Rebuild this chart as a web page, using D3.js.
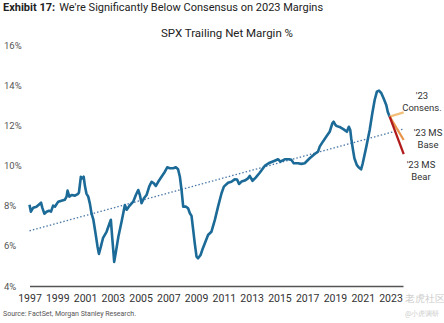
<!DOCTYPE html>
<html>
<head>
<meta charset="utf-8">
<script src="https://cdn.jsdelivr.net/npm/d3@7"></script>
<style>
  body { margin: 0; background: #fff; }
  svg { font-family: Roboto, "Open Sans", sans-serif; display: block; }
</style>
</head>
<body>
<div id="chart"></div>
<script>
const years = [
  1997.0, 1997.1, 1997.27, 1997.5, 1997.75, 1997.83, 1997.92, 1998.07, 1998.23, 1998.4,
  1998.55, 1998.7, 1998.83, 1999.07, 1999.3, 1999.55, 1999.67, 1999.74, 1999.87, 2000.03,
  2000.27, 2000.47, 2000.56, 2000.7, 2000.8, 2000.9, 2001.0, 2001.1, 2001.23, 2001.35,
  2001.47, 2001.6, 2001.76, 2001.9, 2002.0, 2002.14, 2002.3, 2002.55, 2002.86, 2002.96,
  2003.1, 2003.2, 2003.4, 2003.63, 2003.87, 2004.0, 2004.15, 2004.47, 2004.66, 2004.83,
  2004.95, 2005.07, 2005.24, 2005.43, 2005.62, 2005.79, 2005.96, 2006.1, 2006.27, 2006.51,
  2006.75, 2006.92, 2007.1, 2007.35, 2007.54, 2007.7, 2007.83, 2007.95, 2008.07, 2008.26,
  2008.42, 2008.55, 2008.67, 2008.79, 2008.9, 2009.03, 2009.14, 2009.32, 2009.46, 2009.63,
  2009.86, 2010.1, 2010.35, 2010.58, 2010.83, 2011.0, 2011.3, 2011.54, 2011.78, 2011.95,
  2012.09, 2012.27, 2012.5, 2012.74, 2012.86, 2013.06, 2013.29, 2013.58, 2013.94, 2014.3,
  2014.66, 2014.9, 2015.07, 2015.38, 2015.69, 2015.86, 2016.03, 2016.34, 2016.58, 2016.82,
  2017.18, 2017.54, 2017.78, 2017.9, 2018.14, 2018.38, 2018.62, 2018.81, 2018.9, 2019.03,
  2019.14, 2019.39, 2019.63, 2019.86, 2020.0, 2020.1, 2020.17, 2020.3, 2020.4, 2020.57,
  2020.7, 2020.88, 2021.0, 2021.26, 2021.5, 2021.69, 2021.86, 2022.02, 2022.17, 2022.34,
  2022.5, 2022.7, 2022.8, 2022.94
];
const margins = [
  8.05, 7.7, 7.9, 7.95, 8.1, 8.15, 7.9, 7.6, 7.7, 7.75,
  7.7, 8.0, 7.95, 8.2, 8.25, 8.3, 8.45, 8.75, 8.45, 8.53,
  8.5, 8.58, 8.65, 9.44, 9.36, 9.44, 8.95, 8.6, 8.45, 8.1,
  7.6, 7.3, 6.6, 5.96, 5.6, 5.96, 6.4, 6.7, 7.3, 6.4,
  5.2, 5.6, 6.45, 7.2, 8.03, 7.8, 7.95, 8.2, 8.53, 8.78,
  8.53, 8.12, 8.37, 8.53, 8.95, 9.19, 9.11, 8.98, 9.19, 9.44,
  9.69, 9.91, 9.86, 9.86, 9.91, 9.81, 9.44, 8.78, 7.95, 7.95,
  7.87, 7.62, 7.49, 6.79, 6.13, 5.46, 5.38, 5.54, 5.83, 6.13,
  6.54, 6.7, 7.29, 7.95, 8.62, 8.95, 9.14, 9.19, 9.31, 9.3,
  9.08, 9.2, 9.25, 9.36, 9.48, 9.24, 9.4, 9.64, 9.98, 10.14,
  10.24, 10.31, 10.19, 10.31, 10.31, 10.28, 10.11, 10.11, 10.08, 10.11,
  10.36, 10.57, 10.69, 10.94, 11.2, 11.44, 11.68, 12.1, 12.18, 12.02,
  11.96, 11.9, 11.8, 11.68, 11.93, 11.77, 11.36, 10.77, 10.36, 10.03,
  9.91, 9.81, 10.11, 10.94, 11.77, 12.6, 13.26, 13.68, 13.73, 13.6,
  13.35, 13.0, 12.68, 12.43
];

// 2023 scenarios: start at last actual, end at end of 2023
const projYears = [2022.94, 2023.95];
const consensus = [12.43, 12.65];
const msBase = [12.43, 11.27];
const msBear = [12.43, 10.57];

// linear trend endpoints
const trendYears = [1997.0, 2023.95];
const trendValues = [6.75, 11.82];

const yTicks = [4, 6, 8, 10, 12, 14, 16];
const xTicks = [1997, 1999, 2001, 2003, 2005, 2007, 2009, 2011, 2013, 2015, 2017, 2019, 2021, 2023];

const w = 444, h = 323;

const svg = d3.select("#chart").append("svg")
  .attr("width", w)
  .attr("height", h);

const x = d3.scaleLinear().domain([1997, 2023.9]).range([29.5, 403]);
const y = d3.scaleLinear().domain([4, 16]).range([286, 45]);

// titles
const title = svg.append("text")
  .attr("x", 3)
  .attr("y", 11)
  .attr("font-size", 11)
  .attr("fill", "#222");
title.append("tspan").attr("font-weight", "bold").text("Exhibit 17:");
title.append("tspan").attr("dx", 4).text("We're Significantly Below Consensus on 2023 Margins");

svg.append("text")
  .attr("x", 227)
  .attr("y", 37)
  .attr("text-anchor", "middle")
  .attr("font-size", 11.5)
  .attr("fill", "#222")
  .text("SPX Trailing Net Margin %");

// y labels
svg.append("g").selectAll("text")
  .data(yTicks)
  .enter()
  .append("text")
  .attr("x", 4)
  .attr("y", d => y(d) + 3.5)
  .attr("font-size", 9.5)
  .attr("fill", "#555")
  .text(d => d + "%");

// x axis
const xAxis = d3.axisBottom(x)
  .tickValues(xTicks)
  .tickFormat(d3.format("d"))
  .tickSize(0)
  .tickPadding(9);

const gx = svg.append("g")
  .attr("transform", `translate(0, ${y(4)})`)
  .call(xAxis);
gx.select(".domain").attr("stroke", "#555").attr("stroke-width", 1.5);
gx.selectAll("text")
  .attr("font-size", 10.5)
  .attr("fill", "#333")
  .attr("font-family", "Roboto, sans-serif");

const line = d3.line()
  .x(d => x(d[0]))
  .y(d => y(d[1]));

// trend
svg.append("path")
  .datum(d3.zip(trendYears, trendValues))
  .attr("d", line)
  .attr("fill", "none")
  .attr("stroke", "#4a78a8")
  .attr("stroke-width", 1.3)
  .attr("stroke-dasharray", "1.5,2");

// main series
svg.append("path")
  .datum(d3.zip(years, margins))
  .attr("d", line)
  .attr("fill", "none")
  .attr("stroke", "#1b6a97")
  .attr("stroke-width", 2.6)
  .attr("stroke-linejoin", "round");

// projections
const projections = [
  { vals: consensus, color: "#f3c07a" },
  { vals: msBase, color: "#e8954c" },
  { vals: msBear, color: "#b01c1c" }
];
svg.append("g").selectAll("path")
  .data(projections)
  .enter()
  .append("path")
  .attr("d", d => line(d3.zip(projYears, d.vals)))
  .attr("fill", "none")
  .attr("stroke", d => d.color)
  .attr("stroke-width", 2.3);

// scenario labels
const notes = [
  { lines: ["'23", "Consens."], cx: 422, top: 99 },
  { lines: ["'23 MS", "Base"], cx: 428, top: 136 },
  { lines: ["'23 MS", "Bear"], cx: 421, top: 168 }
];
notes.forEach(n => {
  const t = svg.append("text")
    .attr("text-anchor", "middle")
    .attr("font-size", 9.5)
    .attr("fill", "#333");
  n.lines.forEach((s, i) => {
    t.append("tspan").attr("x", n.cx).attr("y", n.top + i * 11.5).text(s);
  });
});

// source
svg.append("text")
  .attr("x", 3)
  .attr("y", 316)
  .attr("font-size", 7)
  .attr("fill", "#555")
  .text("Source: FactSet, Morgan Stanley Research.");

// watermark
svg.append("text")
  .attr("x", 405)
  .attr("y", 302)
  .attr("font-size", 9.5)
  .attr("fill", "#ccc")
  .text("老虎社区");
svg.append("text")
  .attr("x", 405)
  .attr("y", 316)
  .attr("font-size", 7)
  .attr("fill", "#ccc")
  .text("@小虎调研");
</script>
</body>
</html>
